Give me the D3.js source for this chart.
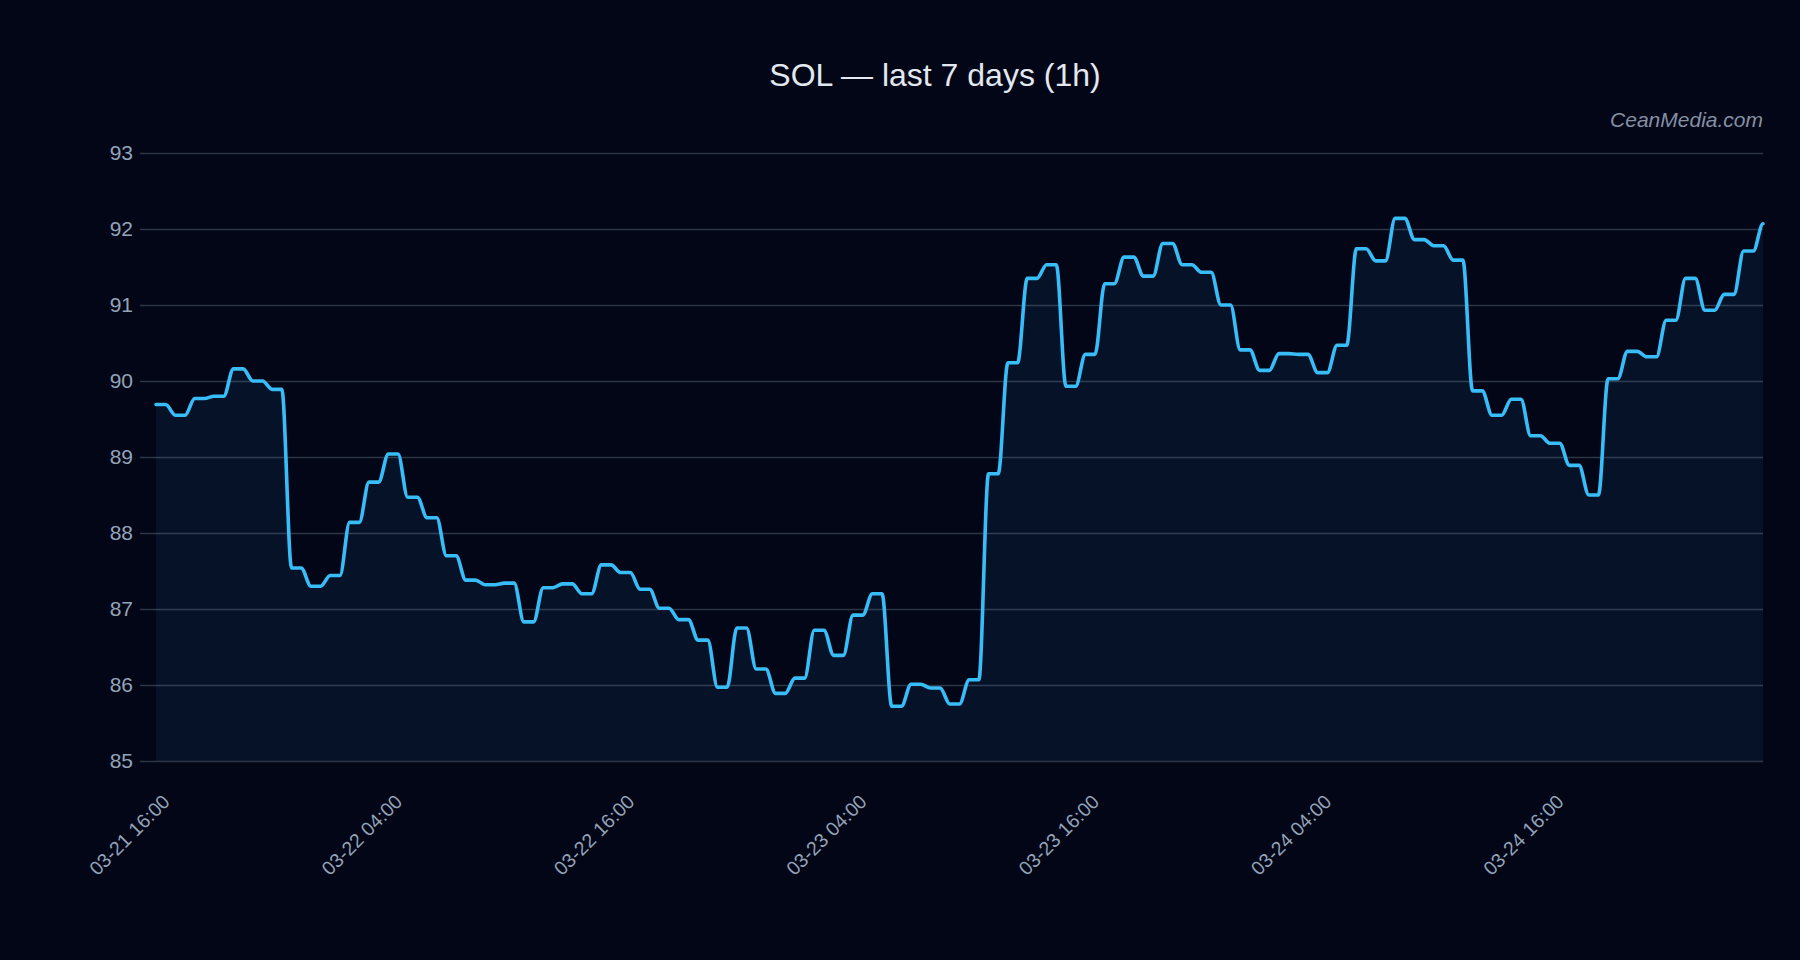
<!DOCTYPE html>
<html>
<head>
<meta charset="utf-8">
<title>SOL — last 7 days (1h)</title>
<script src="https://cdn.jsdelivr.net/npm/d3@7/dist/d3.min.js"></script>
<style>
    html, body {
        margin: 0;
        padding: 0;
        background: #020617;
    }
    svg {
        display: block;
    }
    .tick-label {
        font-family: 'Liberation Sans', Arial, sans-serif;
        font-size: 21px;
        fill: #94a3b8;
    }
    .x-label {
        font-size: 19.5px;
    }
</style>
</head>
<body>
<svg id="chart"></svg>
<script>
// hourly closes (03-21 16:00 .. 03-25 03:00)
const prices = [
    89.69, 89.55, 89.77, 89.80, 90.16, 90.00, 89.89, 87.54, 87.30, 87.44,
    88.14, 88.67, 89.04, 88.47, 88.20, 87.70, 87.38, 87.32, 87.34, 86.83,
    87.28, 87.33, 87.20, 87.58, 87.48, 87.26, 87.01, 86.86, 86.59, 85.97,
    86.75, 86.21, 85.89, 86.09, 86.72, 86.39, 86.92, 87.20, 85.72, 86.01,
    85.96, 85.75, 86.07, 88.78, 90.24, 91.35, 91.53, 89.93, 90.35, 91.28,
    91.63, 91.38, 91.81, 91.53, 91.43, 91.00, 90.41, 90.14, 90.36, 90.35,
    90.11, 90.47, 91.74, 91.58, 92.14, 91.86, 91.78, 91.59, 89.87, 89.55,
    89.76, 89.28, 89.18, 88.89, 88.50, 90.03, 90.39, 90.32, 90.80, 91.35,
    90.93, 91.14, 91.71, 92.07
];

// one x label every 12 hours
const xTickHours = [0, 12, 24, 36, 48, 60, 72];
const xTickLabels = ['03-21 16:00', '03-22 04:00', '03-22 16:00', '03-23 04:00',
    '03-23 16:00', '03-24 04:00', '03-24 16:00'];
const yTicks = [85, 86, 87, 88, 89, 90, 91, 92, 93];

const titleText = 'SOL \u2014 last 7 days (1h)';
const watermarkText = 'CeanMedia.com';

// holds each value for half the interval, then eases into the next one
class HoldCurve {
    constructor(context, hold) {
        this._context = context;
        this._hold = hold;
    }
    areaStart() { this._line = 0; }
    areaEnd() { this._line = NaN; }
    lineStart() { this._point = 0; }
    lineEnd() {
        if (this._line || (this._line !== 0 && this._point === 1)) this._context.closePath();
        this._line = 1 - this._line;
    }
    point(x, y) {
        x = +x; y = +y;
        if (this._point === 0) {
            this._point = 1;
            this._line ? this._context.lineTo(x, y) : this._context.moveTo(x, y);
        } else {
            this._point = 2;
            const xh = this._x + (x - this._x) * this._hold;
            const k = (x - xh) / 3;
            this._context.lineTo(xh, this._y);
            this._context.bezierCurveTo(xh + k, this._y, x - k, y, x, y);
        }
        this._x = x;
        this._y = y;
    }
}
const curveHold = (context) => new HoldCurve(context, 0.5);

const width = 1800;
const height = 960;
const margin = {top: 153, right: 37, bottom: 199, left: 156};

const svg = d3.select('#chart')
    .attr('width', width)
    .attr('height', height);

svg.append('rect')
    .attr('width', width)
    .attr('height', height)
    .attr('fill', '#020617');

const x = d3.scaleLinear()
    .domain([0, prices.length - 1])
    .range([margin.left, width - margin.right]);

const y = d3.scaleLinear()
    .domain([85, 93])
    .range([height - margin.bottom, margin.top]);

// grid + y labels
const yAxis = svg.append('g')
    .attr('transform', `translate(${margin.left}, 0)`)
    .call(d3.axisLeft(y)
        .tickValues(yTicks)
        .tickSize(-(width - margin.left - margin.right))
        .tickPadding(23)
        .tickFormat(d3.format('d')));

yAxis.select('.domain').remove();
yAxis.selectAll('.tick line')
    .attr('x1', -16)
    .attr('stroke', '#2f3746')
    .attr('stroke-width', 1.5);
yAxis.selectAll('.tick text')
    .attr('class', 'tick-label')
    .attr('fill', null)
    .attr('font-size', null)
    .attr('font-family', null);

// area + line
const area = d3.area()
    .x((d, i) => x(i))
    .y0(y(85))
    .y1((d) => y(d))
    .curve(curveHold);

const line = d3.line()
    .x((d, i) => x(i))
    .y((d) => y(d))
    .curve(curveHold);

svg.append('path')
    .datum(prices)
    .attr('d', area)
    .attr('fill', '#38bdf8')
    .attr('fill-opacity', 0.07);

svg.append('path')
    .datum(prices)
    .attr('d', line)
    .attr('fill', 'none')
    .attr('stroke', '#38bdf8')
    .attr('stroke-width', 3.6)
    .attr('stroke-linejoin', 'round')
    .attr('stroke-linecap', 'round');

// rotated x labels
svg.append('g')
  .selectAll('text')
  .data(xTickHours)
  .enter()
  .append('text')
    .attr('class', 'tick-label x-label')
    .attr('text-anchor', 'end')
    .attr('transform', (d) => `translate(${x(d) + 15}, ${y(85) + 42}) rotate(-45)`)
    .text((d, i) => xTickLabels[i]);

// title
svg.append('text')
    .attr('x', 935)
    .attr('y', 86)
    .attr('text-anchor', 'middle')
    .attr('font-family', "'Liberation Sans', Arial, sans-serif")
    .attr('font-size', 32)
    .attr('fill', '#e2e8f0')
    .text(titleText);

// watermark
svg.append('text')
    .attr('x', width - margin.right)
    .attr('y', 127)
    .attr('text-anchor', 'end')
    .attr('font-family', "'Liberation Sans', Arial, sans-serif")
    .attr('font-style', 'italic')
    .attr('font-size', 21)
    .attr('fill', '#8590a3')
    .text(watermarkText);
</script>
</body>
</html>
